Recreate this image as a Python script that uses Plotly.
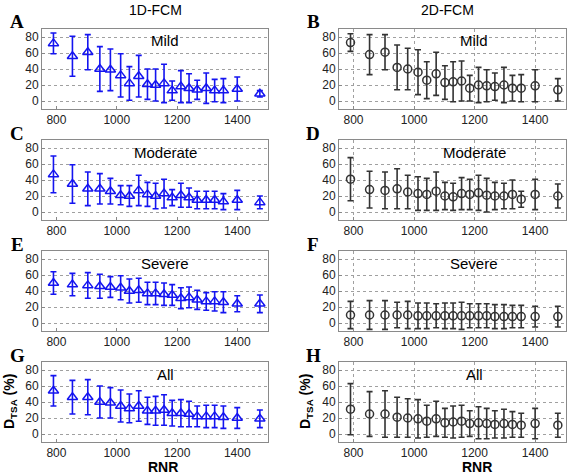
import plotly.graph_objects as go

rnr = [790, 853, 904, 944, 979, 1013, 1042, 1073, 1102, 1129, 1157, 1184, 1213, 1240, 1267, 1297, 1325, 1354, 1400, 1475]

mild_1d = [72, 56, 61, 40, 39, 32, 22, 31, 21, 20, 22, 13, 18, 16, 14, 16, 13, 13, 15, 9]
mild_1d_err = [13, 25, 22, 28, 26, 27, 21, 26, 19, 20, 24, 12, 20, 18, 12, 19, 14, 15, 15, 4]
mild_2d = [73, 58, 61, 42, 40, 36, 26, 34, 23, 24, 25, 16, 20, 19, 18, 20, 16, 16, 19, 14]
mild_2d_err = [11, 25, 22, 28, 26, 28, 23, 27, 21, 25, 25, 16, 22, 20, 17, 22, 16, 17, 20, 14]

mod_1d = [47, 35, 29, 29, 26, 21, 20, 27, 22, 20, 23, 18, 21, 18, 15, 15, 15, 13, 15, 12]
mod_1d_err = [23, 24, 21, 19, 16, 12, 13, 19, 15, 16, 18, 10, 15, 12, 11, 11, 11, 10, 12, 8]
mod_2d = [41, 28, 27, 29, 25, 23, 22, 26, 20, 19, 23, 22, 24, 21, 20, 20, 22, 16, 22, 20]
mod_2d_err = [27, 23, 23, 25, 21, 21, 20, 24, 17, 17, 20, 19, 22, 21, 17, 16, 18, 10, 19, 15]

sev_1d = [50, 48, 47, 46, 45, 44, 40, 41, 37, 37, 36, 35, 31, 32, 29, 27, 27, 26, 24, 24]
sev_1d_err = [14, 14, 16, 15, 13, 15, 15, 15, 14, 14, 14, 13, 13, 13, 12, 11, 12, 13, 10, 11]
sev_2d = [10, 10, 10, 10, 10, 9, 9, 9, 9, 9, 9, 9, 9, 9, 8, 8, 8, 8, 8, 8]
sev_2d_err = [17, 18, 18, 16, 17, 16, 16, 15, 16, 16, 17, 15, 15, 15, 15, 15, 14, 14, 13, 13]

all_1d = [54, 46, 46, 40, 39, 35, 32, 35, 29, 29, 30, 26, 26, 25, 22, 22, 22, 21, 20, 19]
all_1d_err = [19, 21, 22, 20, 19, 20, 18, 19, 17, 18, 19, 16, 17, 16, 13, 14, 14, 14, 13, 11]
all_2d = [31, 25, 25, 21, 20, 19, 16, 19, 14, 15, 16, 13, 14, 13, 12, 13, 12, 11, 13, 11]
all_2d_err = [32, 28, 29, 25, 24, 24, 20, 22, 18, 20, 20, 16, 20, 19, 17, 18, 16, 15, 19, 15]

column_titles = ["1D-FCM", "2D-FCM"]
panel_letters = ["A", "B", "C", "D", "E", "F", "G", "H"]
row_names = ["Mild", "Moderate", "Severe", "All"]
x_ticks = [800, 1000, 1200, 1400]
y_ticks = [0, 20, 40, 60, 80]

W, H = 567, 474
col_px = [(42, 268), (339, 566)]
row_px = [(29, 109), (140, 220), (251, 331), (362, 442)]

series = [
    (mild_1d, mild_1d_err, mild_2d, mild_2d_err),
    (mod_1d, mod_1d_err, mod_2d, mod_2d_err),
    (sev_1d, sev_1d_err, sev_2d, sev_2d_err),
    (all_1d, all_1d_err, all_2d, all_2d_err),
]

fig = go.Figure()
layout = dict(width=W, height=H, margin=dict(l=0, r=0, t=0, b=0),
              paper_bgcolor="white", plot_bgcolor="white", showlegend=False)
annotations = []
tickfont = dict(family="Liberation Sans, Arial", size=12, color="#222")

idx = 0
for r in range(4):
    for c in range(2):
        idx += 1
        xa = "xaxis" if idx == 1 else f"xaxis{idx}"
        ya = "yaxis" if idx == 1 else f"yaxis{idx}"
        xr = "x" if idx == 1 else f"x{idx}"
        yr = "y" if idx == 1 else f"y{idx}"
        x0, x1 = col_px[c]
        y0, y1 = row_px[r]
        vals, errs = (series[r][0], series[r][1]) if c == 0 else (series[r][2], series[r][3])
        color = "#1414f0" if c == 0 else "#333333"
        fig.add_trace(go.Scatter(
            x=rnr, y=vals, xaxis=xr, yaxis=yr, mode="markers",
            marker=dict(symbol="triangle-up-open" if c == 0 else "circle-open",
                        size=9 if c == 0 else 8, color=color, line=dict(width=1.5, color=color)),
            error_y=dict(type="data", array=errs, visible=True, color=color, thickness=1.6, width=3),
            cliponaxis=True,
        ))
        layout[xa] = dict(domain=[x0 / W, x1 / W], anchor=yr, range=[752, 1502],
                          tickvals=x_ticks, ticks="inside", ticklen=3, tickcolor="#888",
                          showline=True, linecolor="#8a8a8a", linewidth=1, mirror=True,
                          showgrid=(c == 1), gridcolor="#a0a0a0", griddash="dot", gridwidth=1,
                          zeroline=False, tickfont=tickfont)
        layout[ya] = dict(domain=[1 - y1 / H, 1 - y0 / H], anchor=xr, range=[-10, 90],
                          tickvals=y_ticks, ticks="inside", ticklen=3, tickcolor="#888",
                          showline=True, linecolor="#8a8a8a", linewidth=1, mirror=True,
                          showgrid=True, gridcolor="#a0a0a0", griddash="dot", gridwidth=1,
                          zeroline=False, tickfont=tickfont)
        lx = 17 if c == 0 else 313
        annotations.append(dict(text=f"<b>{panel_letters[idx-1]}</b>", x=lx / W, y=1 - (y0 - 7) / H,
                                xref="paper", yref="paper", showarrow=False, xanchor="center", yanchor="middle",
                                font=dict(family="Liberation Serif, Times New Roman", size=19, color="black")))
        nx = 165 if c == 0 else 474
        annotations.append(dict(text=row_names[r], x=nx / W, y=1 - (y0 + 12) / H,
                                xref="paper", yref="paper", showarrow=False, xanchor="center", yanchor="middle",
                                font=dict(family="Liberation Sans, Arial", size=15, color="black")))

for c, t in enumerate(column_titles):
    annotations.append(dict(text=t, x=(155 if c == 0 else 447) / W, y=1 - 10 / H,
                            xref="paper", yref="paper", showarrow=False, xanchor="center", yanchor="middle",
                            font=dict(family="Liberation Sans, Arial", size=14, color="black")))
    annotations.append(dict(text="<b>RNR</b>", x=(163 if c == 0 else 477) / W, y=1 - 467 / H,
                            xref="paper", yref="paper", showarrow=False, xanchor="center", yanchor="middle",
                            font=dict(family="Liberation Sans, Arial", size=14, color="black")))
    annotations.append(dict(text="<b>D<sub>TSA</sub> (%)</b>", x=(10 if c == 0 else 306) / W, y=1 - 402 / H,
                            xref="paper", yref="paper", showarrow=False, xanchor="center", yanchor="middle",
                            textangle=-90,
                            font=dict(family="Liberation Sans, Arial", size=14, color="black")))

layout["annotations"] = annotations
fig.update_layout(**layout)
fig.write_html("out.html", config={"displayModeBar": False},
               post_script="document.body.style.margin='0px';document.body.style.padding='0px';")
